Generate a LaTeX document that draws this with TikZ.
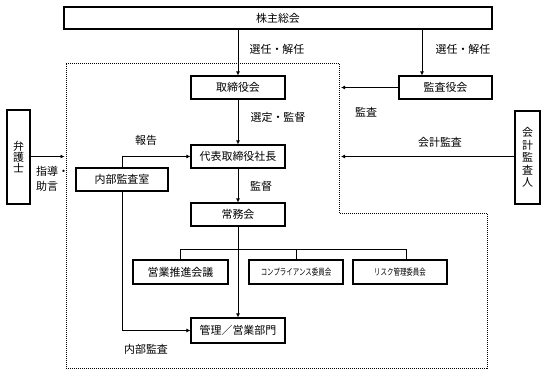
\documentclass[tikz,border=0pt]{standalone}
\usepackage{graphicx}
\usepackage{fontspec}
\setmainfont{Noto Sans CJK JP}
\usetikzlibrary{arrows.meta}
\newcommand{\narrowtxt}[1]{\scalebox{0.72}[1]{\fontsize{9}{10}\selectfont #1}}
\begin{document}
\begin{tikzpicture}[x=1bp,y=-1bp,
  box/.style={draw,line width=1.1bp,minimum height=23bp,inner sep=0pt,font=\fontsize{11}{13}\selectfont},
  lbl/.style={font=\fontsize{11}{13}\selectfont,inner sep=0pt},
  conn/.style={line width=0.8bp},
  arr/.style={conn,-{Latex[length=4bp,width=4bp]}},
  region/.style={line width=0.8bp,dash pattern=on 0.8bp off 1.2bp}
]
\useasboundingbox (0,0) rectangle (546,373);

% region
\coordinate (d1) at (66,63);
\coordinate (d2) at (339,63);
\coordinate (d3) at (339,213);
\coordinate (d4) at (487,213);
\coordinate (d5) at (487,368);
\coordinate (d6) at (66,368);
\draw[region] (d1) -- (d2) -- (d3) -- (d4) -- (d5) -- (d6) -- cycle;

% boxes
\node[box,minimum width=428bp,minimum height=22bp] (top) at (278,18) {株主総会};
\node[box,minimum width=94bp] (tori) at (238,87.5) {取締役会};
\node[box,minimum width=93bp] (kansa) at (445.5,87.5) {監査役会};
\node[box,minimum width=94bp] (ceo) at (238,156.5) {代表取締役社長};
\node[box,minimum width=94bp] (jomu) at (238,214.5) {常務会};
\node[box,minimum width=95bp,minimum height=24bp] (eigyo) at (180.5,272) {営業推進会議};
\node[box,minimum width=94bp,minimum height=24bp] (comp) at (296,272) {\narrowtxt{コンプライアンス委員会}};
\node[box,minimum width=94bp,minimum height=24bp] (risk) at (400,272) {\narrowtxt{リスク管理委員会}};
\node[box,minimum width=94bp,minimum height=25bp] (kanri) at (238,330.5) {管理／営業部門};
\node[box,minimum width=92bp] (naibu) at (122,179.5) {内部監査室};
\node[box,minimum width=23bp,minimum height=94bp,align=center,font=\fontsize{11}{11.5}\selectfont] (bengo) at (18.5,157) {弁\\護\\士};
\node[box,minimum width=25bp,minimum height=93bp,align=center,font=\fontsize{11}{12.5}\selectfont] (kaikei) at (527.5,157.5) {会\\計\\監\\査\\人};

% helper coordinates
\coordinate (x2) at (422,0);
\coordinate (xr) at (406,0);
\coordinate (bus) at (0,249);
\coordinate (rtip) at (341,0);
\coordinate (ltip) at (64.5,0);

% connectors
\draw[arr] (top.south -| tori) -- (tori.north);
\draw[arr] (top.south -| x2) -- (kansa.north -| x2);
\draw[arr] (tori) -- (ceo);
\draw[arr] (ceo) -- (jomu);
\draw[arr] (jomu) -- (kanri);
\draw[conn] (eigyo.north) -- (eigyo.north |- bus) -- (xr |- bus) -- (risk.north -| xr);
\draw[conn] (comp.north) -- (comp.north |- bus);
\draw[arr] (kansa.west) -- (rtip |- kansa.west);
\draw[arr] (kaikei.west |- ceo.west) -- (rtip |- ceo.west);
\draw[arr] (bengo.east |- ceo.west) -- (ltip |- ceo.west);
\draw[arr] (naibu.north) -- (naibu.north |- ceo.west) -- (ceo.west);
\draw[arr] (naibu.south) -- (naibu.south |- kanri.west) -- (kanri.west);

% labels
\node[lbl] (l1) at (277,49) {選任・解任};
\node[lbl] (l2) at (463,49) {選任・解任};
\node[lbl] (l3) at (278,117) {選定・監督};
\node[lbl] (l4) at (261,186) {監督};
\node[lbl] (l5) at (366,112) {監査};
\node[lbl] (l6) at (440,142) {会計監査};
\node[lbl] (l7) at (146,140) {報告};
\node[lbl,align=left,anchor=north west,font=\fontsize{11}{15}\selectfont] (l8) at (36,166) {指導・\\助言};
\node[lbl] (l9) at (146,349) {内部監査};
\end{tikzpicture}
\end{document}
